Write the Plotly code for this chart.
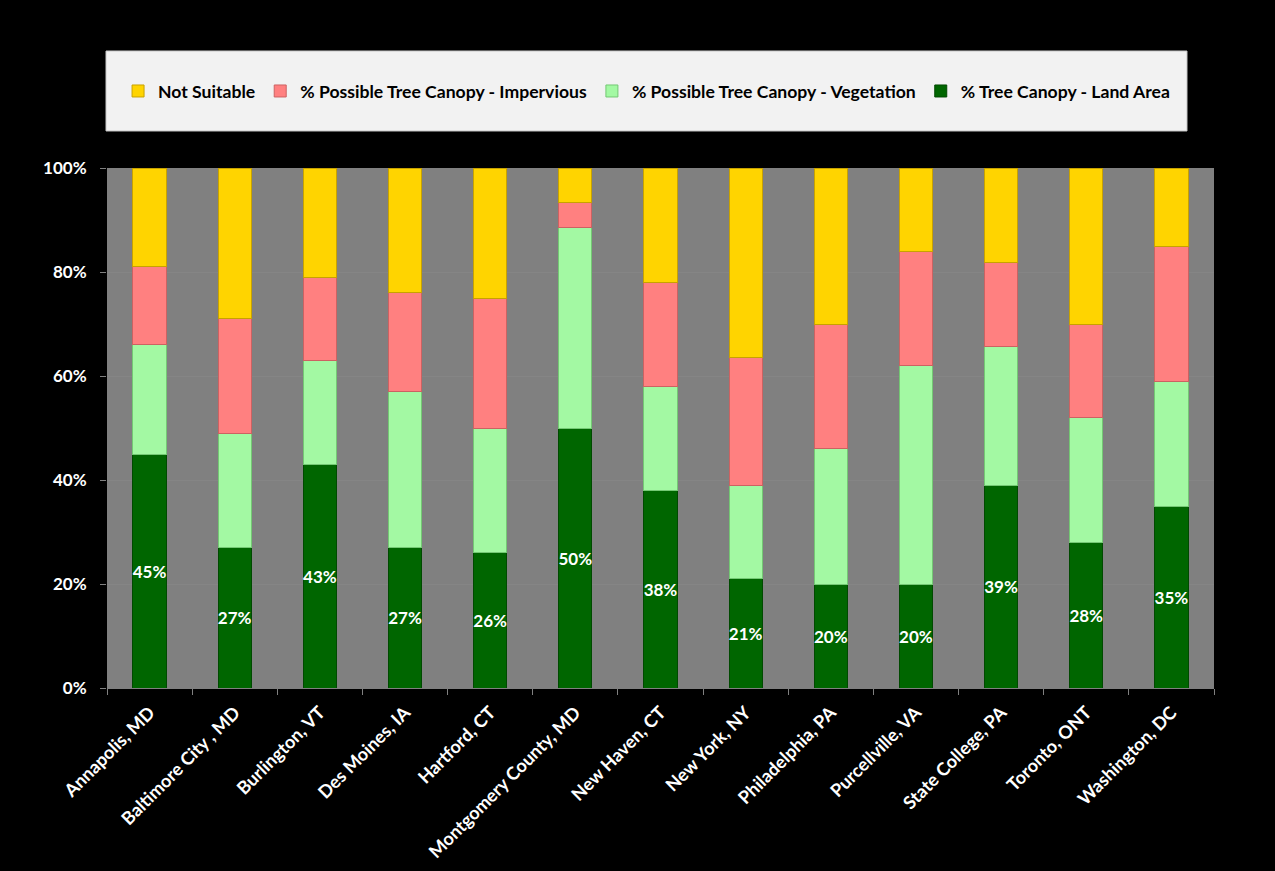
import plotly.graph_objects as go

cities = [
    "Annapolis, MD", "Baltimore City , MD", "Burlington, VT", "Des Moines, IA",
    "Hartford, CT", "Montgomery County, MD", "New Haven, CT", "New York, NY",
    "Philadelphia, PA", "Purcellville, VA", "State College, PA", "Toronto, ONT",
    "Washington, DC",
]

# Shares of land area (%), stacked bottom to top
tree_canopy = [45, 27, 43, 27, 26, 50, 38, 21, 20, 20, 39, 28, 35]
possible_vegetation = [21, 22, 20, 30, 24, 38.6, 20, 18, 26, 42, 26.6, 24, 24]
possible_impervious = [15, 22, 16, 19, 25, 4.7, 20, 24.5, 24, 22, 16.2, 18, 26]
not_suitable = [19, 29, 21, 24, 25, 6.7, 22, 36.5, 30, 16, 18.2, 30, 15]

canopy_labels = [f"{v}%" for v in tree_canopy]

FONT = "Lato"

fig = go.Figure()

series = [
    ("% Tree Canopy - Land Area", tree_canopy, "#006600", "#004a00", canopy_labels),
    ("% Possible Tree Canopy - Vegetation", possible_vegetation, "#a3f9a3", "#74c874", None),
    ("% Possible Tree Canopy - Impervious", possible_impervious, "#ff8080", "#cc6262", None),
    ("Not Suitable", not_suitable, "#ffd400", "#c8a200", None),
]

for name, vals, fill, edge, labels in series:
    fig.add_trace(go.Bar(
        name=name,
        x=cities,
        y=vals,
        marker=dict(color=fill, line=dict(color=edge, width=1)),
        text=labels,
        texttemplate="%{text}" if labels else None,
        textposition="inside" if labels else "none",
        insidetextanchor="middle",
        constraintext="none",
        textangle=0,
        textfont=dict(family=FONT, size=17, color="white", weight="bold"),
        hoverinfo="x+y+name",
    ))

# Legend panel background
fig.add_shape(
    type="rect", xref="paper", yref="paper",
    x0=-0.0009, x1=0.9756, y0=1.0712, y1=1.225,
    fillcolor="#f2f2f2", line=dict(color="#c8c8c8", width=1),
    layer="below",
)

fig.update_layout(
    width=1275, height=871,
    barmode="stack",
    bargap=0.61,
    paper_bgcolor="black",
    plot_bgcolor="#808080",
    margin=dict(l=107, r=61, t=168, b=183),
    font=dict(family=FONT, color="white"),
    legend=dict(
        orientation="h",
        traceorder="reversed",
        x=0.4874, xanchor="center",
        y=1.148, yanchor="middle",
        bgcolor="rgba(0,0,0,0)",
        font=dict(family=FONT, size=17.6, color="black", weight="bold"),
        itemwidth=30,
    ),
    xaxis=dict(
        tickangle=-45,
        tickfont=dict(family=FONT, size=18, color="white", weight="bold"),
        tickson="boundaries",
        ticks="outside", ticklen=6, tickcolor="#808080",
        ticklabelstandoff=6,
        showline=True, linecolor="#808080", linewidth=1,
        showgrid=False,
        automargin=False,
    ),
    yaxis=dict(
        range=[0, 100],
        tickvals=[0, 20, 40, 60, 80, 100],
        ticktext=["0%", "20%", "40%", "60%", "80%", "100%"],
        tickfont=dict(family=FONT, size=17, color="white", weight="bold"),
        ticks="outside", ticklen=6, tickcolor="#808080",
        ticklabelstandoff=10,
        showgrid=True, gridcolor="#858585", gridwidth=1,
        zeroline=False,
        automargin=False,
    ),
)

fig.write_html("out.html")
